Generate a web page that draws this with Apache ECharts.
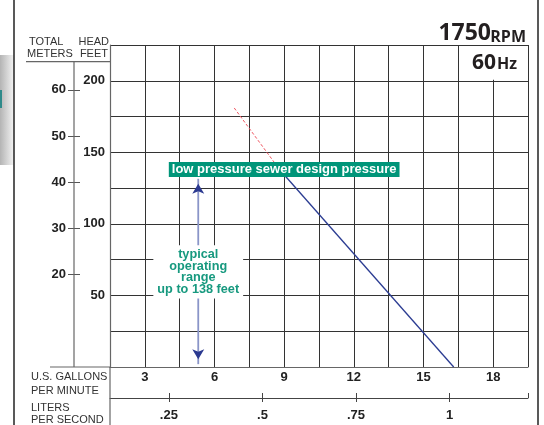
<!DOCTYPE html>
<html>
<head>
<meta charset="utf-8">
<script src="https://cdn.jsdelivr.net/npm/echarts@6/dist/echarts.min.js"></script>
<style>html,body{margin:0;padding:0;background:#fff}#c{width:544px;height:425px}</style>
</head>
<body>
<div id="c"></div>
<script>
// ---- data ----
const gpmLabels = [3, 6, 9, 12, 15, 18];          // U.S. gallons per minute labels
const feetLabels = [50, 100, 150, 200];           // head, feet
const meterTicks = [20, 30, 40, 50, 60];          // head, meters
const lpsTicks = [0.25, 0.5, 0.75, 1];            // liters per second
const lpsLabels = ['.25', '.5', '.75', '1'];
const curveExtrapolated = [[6.85, 181], [8.8, 138]];   // red dashed part
const curveOperating = [[8.8, 138], [16.3, 0]];        // blue solid part
const designPressureFt = 138;
const designLabelGpm = 9.0;
const operatingArrowGpm = 5.3;
const operatingArrow = [2, 131.5];                // ft, arrow tips
const operatingTextFt = 66.4;
const lpsRange = [0.0927, 1.2094];
const meterMax = 69.7;

const FONT = '"Liberation Sans", Arial, sans-serif';
const chart = echarts.init(document.getElementById('c'), null, {renderer: 'canvas'});

const labelStyle = {color: '#222', fontWeight: 'bold', fontSize: 13, fontFamily: FONT};
const near = (a, b) => Math.abs(a - b) < 1e-6;

const option = {
  animation: false,
  backgroundColor: '#fff',
  grid: {left: 110, right: 16, top: 45, bottom: 58, containLabel: false, outerBoundsMode: 'none'},
  xAxis: [
    {
      type: 'value', min: 1.5, max: 19.5, interval: 1.5, position: 'bottom',
      axisLine: {show: true, onZero: false, lineStyle: {color: '#666', width: 1.2}},
      axisTick: {show: false},
      axisLabel: Object.assign({margin: 4, formatter: v => gpmLabels.some(g => near(g, v)) ? String(Math.round(v)) : ''}, labelStyle),
      splitLine: {show: true, lineStyle: {color: '#333', width: 1}}
    },
    {
      type: 'value', min: lpsRange[0], max: lpsRange[1], position: 'bottom', offset: 31,
      axisLine: {show: true, onZero: false, lineStyle: {color: '#444', width: 1}},
      axisTick: {show: true, length: 4, customValues: lpsTicks, lineStyle: {color: '#444'}},
      axisLabel: Object.assign({margin: 11, customValues: lpsTicks,
        formatter: v => { const i = lpsTicks.findIndex(t => near(t, v)); return i >= 0 ? lpsLabels[i] : ''; }}, labelStyle),
      splitLine: {show: false}
    },
    {
      type: 'value', min: lpsRange[0], max: lpsRange[1], position: 'bottom', offset: 31,
      axisLine: {show: false, onZero: false},
      axisTick: {show: true, inside: true, length: 5, customValues: lpsTicks.concat([lpsRange[1]]), lineStyle: {color: '#444'}},
      axisLabel: {show: false},
      splitLine: {show: false}
    }
  ],
  yAxis: [
    {
      type: 'value', min: 0, max: 225, interval: 25, position: 'left',
      axisLine: {show: true, onZero: false, lineStyle: {color: '#666', width: 1.2}},
      axisTick: {show: false},
      axisLabel: Object.assign({margin: 5, formatter: v => feetLabels.includes(v) ? String(v) : ''}, labelStyle),
      splitLine: {show: true, lineStyle: {color: '#333', width: 1}}
    },
    {
      type: 'value', min: 0, max: meterMax, position: 'left', offset: 36,
      axisLine: {show: false, onZero: false},
      axisTick: {show: true, length: 6, customValues: meterTicks, lineStyle: {color: '#555'}},
      axisLabel: Object.assign({margin: 8, customValues: meterTicks}, labelStyle),
      splitLine: {show: false}
    },
    {
      type: 'value', min: 0, max: meterMax, position: 'left', offset: 36,
      axisLine: {show: false, onZero: false},
      axisTick: {show: true, inside: true, length: 6, customValues: meterTicks, lineStyle: {color: '#555'}},
      axisLabel: {show: false},
      splitLine: {show: false}
    }
  ],
  series: [
    {
      type: 'line', xAxisIndex: 0, yAxisIndex: 0, data: curveExtrapolated, symbol: 'none',
      lineStyle: {color: '#ef5560', width: 1, type: [3, 2]}, z: 3
    },
    {
      type: 'line', xAxisIndex: 0, yAxisIndex: 0, data: curveOperating, symbol: 'none',
      lineStyle: {color: '#2b3c92', width: 1.3}, z: 3
    },
    {
      type: 'line', xAxisIndex: 0, yAxisIndex: 0, symbol: 'arrow', symbolSize: [9, 10], showSymbol: true,
      data: [
        {value: [operatingArrowGpm, operatingArrow[0]], symbolRotate: 180, symbolOffset: [0, '-50%']},
        {value: [operatingArrowGpm, operatingArrow[1]], symbolOffset: [0, '50%']}
      ],
      lineStyle: {color: '#8a95c8', width: 1.8}, itemStyle: {color: '#2b3990'}, z: 3
    }
  ]
};
chart.setOption(option);

const P = (x, y) => chart.convertToPixel({xAxisIndex: 0, yAxisIndex: 0}, [x, y]);
const L = P(1.5, 0)[0], R = P(19.5, 0)[0], B = P(1.5, 0)[1], T = P(1.5, 225)[1];
const mX = L - 36;
const hdrY = 61.7;
const line = (x1, y1, x2, y2, stroke, w) => ({type: 'line', silent: true, z: 90,
  shape: {x1, y1, x2, y2}, style: {stroke, lineWidth: w}});
const txt = (text, x, y, font, fill, align, extra) => ({type: 'text', silent: true, z: 100,
  style: Object.assign({text, x, y, font, fill, align: align || 'left', verticalAlign: 'middle'}, extra || {})});

const hz1 = P(16.5, 225), hz2 = P(19.5, 200);
const dl = P(designLabelGpm, designPressureFt);
const ot = P(operatingArrowGpm, operatingTextFt);
const small = '11px ' + FONT;

chart.setOption({graphic: [
  // left shadow artifact
  {type: 'rect', silent: true, z: 1, shape: {x: 0, y: 55, width: 14, height: 110},
    style: {fill: new echarts.graphic.LinearGradient(0, 0, 1, 0, [{offset: 0, color: '#b4b4b4'}, {offset: 1, color: '#f4f4f4'}])}},
  {type: 'rect', silent: true, z: 2, shape: {x: 0, y: 90, width: 2, height: 18}, style: {fill: '#2e8a8a'}},
  // frame lines
  line(14, 0, 14, 425, '#222', 1.5),
  line(538, 0, 538, 425, '#222', 1.5),
  // axis extensions
  line(L, B, L, 425, '#666', 1.2),
  line(mX, hdrY, mX, B, '#666', 1.2),
  line(26, hdrY, L, hdrY, '#666', 1.2),
  line(50, B, L, B, '#666', 1.2),
  // header texts
  txt('TOTAL', 29, 41.5, small, '#333'),
  txt('METERS', 27, 53.5, small, '#333'),
  txt('HEAD', 109, 41.5, small, '#333', 'right'),
  txt('FEET', 108, 53.5, small, '#333', 'right'),
  txt('U.S. GALLONS', 31, 377, small, '#333'),
  txt('PER MINUTE', 31, 390.5, small, '#333'),
  txt('LITERS', 31, 408, small, '#333'),
  txt('PER SECOND', 31, 419.5, small, '#333'),
  // RPM
  txt('RPM', 526, 37, 'bold 16px "Open Sans", sans-serif', '#231f20', 'right'),
  txt('1750', 491, 33, 'bold 23px "Open Sans", sans-serif', '#231f20', 'right'),
  // 60Hz box
  {type: 'rect', silent: true, z: 95, shape: {x: hz1[0] + 1, y: hz1[1] + 1, width: hz2[0] - hz1[0] - 2, height: hz2[1] - hz1[1] - 2}, style: {fill: '#fff'}},
  txt('Hz', 517, 64, 'bold 16px "Open Sans", sans-serif', '#231f20', 'right'),
  txt('60', 496, 63, 'bold 21px "Open Sans", sans-serif', '#231f20', 'right'),
  // design pressure label
  txt('low pressure sewer design pressure', dl[0], dl[1], 'bold 13px ' + FONT, '#fff', 'center',
    {backgroundColor: '#009579', padding: [1, 3, 1, 3]}),
  // operating range text
  txt('typical\noperating\nrange\nup to 138 feet', ot[0], ot[1], 'bold 12.7px ' + FONT, '#17997f', 'center',
    {backgroundColor: '#fff', padding: [3, 4, 3, 4], lineHeight: 11.8})
]});
</script>
</body>
</html>
